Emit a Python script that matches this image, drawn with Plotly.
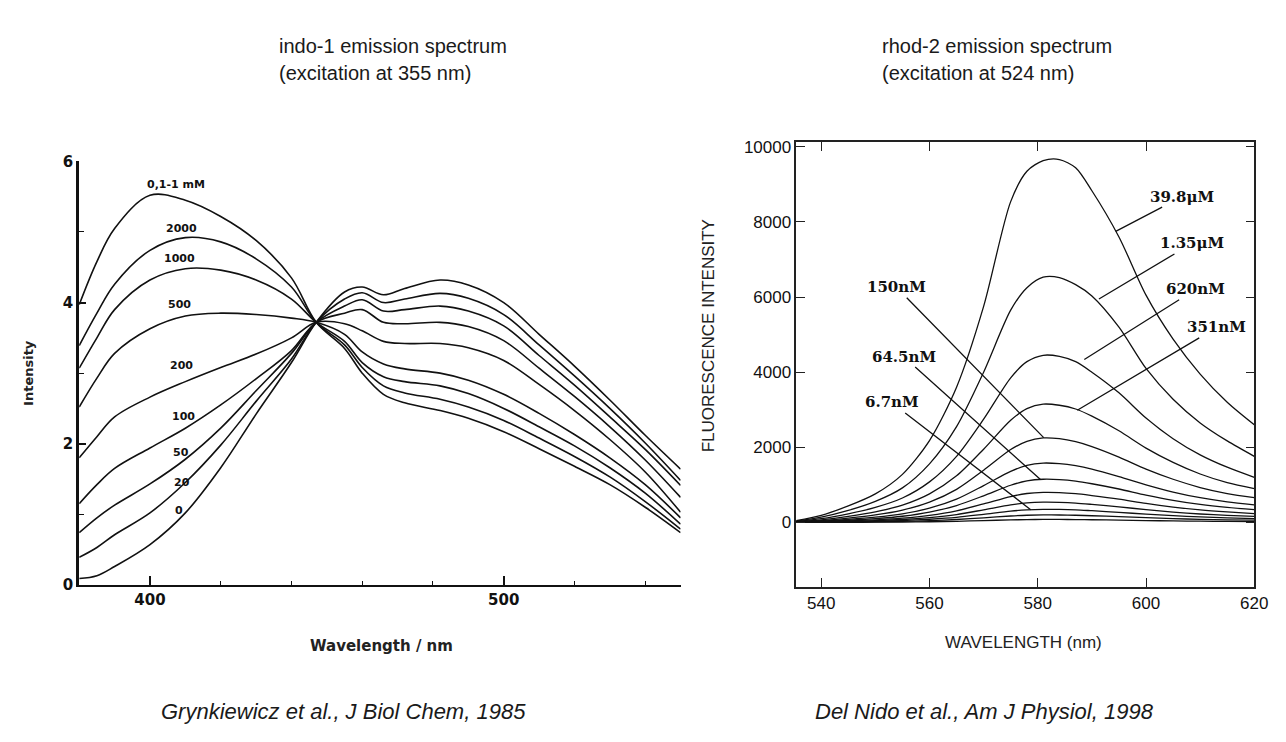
import plotly.graph_objects as go

# ---------------- Left panel: indo-1 (Grynkiewicz 1985) ----------------
indo_wl = [380, 385, 390, 400, 410, 420, 430, 440, 447, 455, 460, 466, 472, 482, 490, 500, 510, 520, 530, 540, 550]
indo_labels = ["0,1-1 mM", "2000", "1000", "500", "200", "100", "50", "20", "0"]
indo_sat = [3.97, 4.58, 5.05, 5.52, 5.45, 5.22, 4.88, 4.35, 3.72, 3.35, 3.0, 2.7, 2.58, 2.47, 2.36, 2.17, 1.93, 1.68, 1.42, 1.1, 0.74]
indo_2000 = [3.39, 3.85, 4.26, 4.74, 4.92, 4.86, 4.62, 4.22, 3.72, 3.4, 3.08, 2.82, 2.72, 2.63, 2.52, 2.33, 2.08, 1.82, 1.53, 1.18, 0.79]
indo_1000 = [3.07, 3.5, 3.9, 4.32, 4.48, 4.46, 4.32, 4.05, 3.72, 3.45, 3.15, 2.95, 2.88, 2.82, 2.71, 2.5, 2.24, 1.97, 1.66, 1.3, 0.86]
indo_500 = [2.52, 2.93, 3.28, 3.63, 3.81, 3.85, 3.83, 3.78, 3.72, 3.55, 3.3, 3.13, 3.06, 3.0, 2.9, 2.7, 2.43, 2.13, 1.8, 1.42, 0.95]
indo_200 = [1.8, 2.1, 2.38, 2.66, 2.88, 3.08, 3.27, 3.5, 3.72, 3.7, 3.6, 3.45, 3.42, 3.42, 3.36, 3.18, 2.84, 2.47, 2.06, 1.6, 1.03]
indo_100 = [1.15, 1.42, 1.65, 1.94, 2.22, 2.55, 2.92, 3.32, 3.72, 3.85, 3.9, 3.72, 3.7, 3.72, 3.66, 3.46, 3.07, 2.67, 2.24, 1.77, 1.24]
indo_50 = [0.74, 0.95, 1.13, 1.43, 1.78, 2.22, 2.75, 3.28, 3.72, 3.95, 4.04, 3.88, 3.9, 3.95, 3.88, 3.67, 3.25, 2.83, 2.38, 1.92, 1.41]
indo_20 = [0.39, 0.53, 0.71, 1.02, 1.45, 1.98, 2.6, 3.2, 3.72, 4.05, 4.14, 4.0, 4.05, 4.13, 4.06, 3.83, 3.4, 2.96, 2.5, 2.01, 1.48]
indo_0 = [0.09, 0.13, 0.26, 0.57, 1.02, 1.66, 2.42, 3.15, 3.72, 4.15, 4.22, 4.11, 4.2, 4.32, 4.25, 4.0, 3.55, 3.1, 2.62, 2.12, 1.64]
indo_series = [indo_sat, indo_2000, indo_1000, indo_500, indo_200, indo_100, indo_50, indo_20, indo_0]
indo_label_x = [407.5, 408.8, 408.3, 408.3, 408.8, 409.4, 408.8, 409.0, 408.3]
indo_label_y = [5.67, 5.05, 4.62, 3.97, 3.11, 2.38, 1.87, 1.45, 1.05]

# ---------------- Right panel: rhod-2 (Del Nido 1998) ----------------
rhod_wl = [535, 540, 545, 550, 555, 560, 565, 570, 575, 578, 581, 584, 587, 590, 595, 600, 605, 610, 615, 620]
rhod_c1 = [40, 190, 440, 760, 1280, 2180, 3600, 5750, 8540, 9350, 9630, 9660, 9440, 8830, 7600, 6050, 4880, 3950, 3200, 2600]
rhod_c2 = [30, 140, 320, 560, 920, 1560, 2550, 4000, 5650, 6250, 6530, 6520, 6330, 6030, 5200, 4100, 3280, 2650, 2170, 1760]
rhod_c3 = [20, 100, 230, 400, 650, 1080, 1760, 2750, 3850, 4280, 4450, 4420, 4280, 4000, 3450, 2780, 2230, 1800, 1470, 1200]
rhod_c4 = [15, 70, 160, 280, 460, 760, 1240, 1950, 2720, 3030, 3150, 3120, 3020, 2830, 2440, 1980, 1600, 1290, 1060, 900]
rhod_c5 = [10, 50, 115, 200, 330, 540, 880, 1390, 1940, 2160, 2250, 2230, 2150, 2020, 1740, 1420, 1150, 930, 770, 660]
rhod_c6 = [8, 35, 80, 140, 230, 380, 620, 980, 1360, 1520, 1580, 1565, 1510, 1420, 1220, 1000, 810, 660, 550, 470]
rhod_c7 = [5, 25, 58, 100, 165, 275, 450, 710, 990, 1105, 1150, 1140, 1100, 1030, 890, 730, 590, 480, 400, 340]
rhod_c8 = [4, 18, 40, 70, 115, 190, 310, 495, 690, 770, 800, 795, 765, 715, 620, 505, 410, 335, 280, 235]
rhod_c9 = [3, 12, 27, 47, 78, 130, 210, 335, 465, 520, 540, 535, 515, 480, 415, 340, 275, 225, 190, 160]
rhod_c10 = [2, 8, 17, 30, 50, 85, 135, 215, 300, 335, 350, 347, 335, 312, 270, 220, 180, 146, 122, 104]
rhod_c11 = [1, 5, 10, 17, 28, 48, 78, 124, 172, 192, 200, 198, 191, 178, 154, 126, 102, 83, 70, 60]
rhod_c12 = [0, 2, 4, 7, 11, 19, 31, 49, 68, 76, 80, 79, 76, 71, 62, 50, 41, 33, 28, 24]
rhod_series = [rhod_c1, rhod_c2, rhod_c3, rhod_c4, rhod_c5, rhod_c6, rhod_c7, rhod_c8, rhod_c9, rhod_c10, rhod_c11, rhod_c12]

rhod_labels = ["39.8\u03bcM", "1.35\u03bcM", "620nM", "351nM", "150nM", "64.5nM", "6.7nM"]
rhod_label_x = [606.7, 608.5, 609.2, 613.1, 553.9, 555.2, 553.0]
rhod_label_y = [8674, 7427, 6207, 5194, 6259, 4415, 3194]
rhod_point_x = [594.4, 591.3, 588.6, 587.3, 581.1, 580.5, 578.7]
rhod_point_y = [7750, 5947, 4337, 2987, 2259, 1143, 338]

right_ticks = [0, 2000, 4000, 6000, 8000, 10000]
right_ticktext = ["0", "2000", "4000", "6000", "8000", "10000"]

fig = go.Figure()

for ys in indo_series:
    fig.add_trace(go.Scatter(x=indo_wl, y=ys, mode="lines", xaxis="x", yaxis="y",
                             line=dict(color="#111111", width=1.6, shape="spline", smoothing=1.0),
                             hoverinfo="skip", showlegend=False))

for ys in rhod_series:
    fig.add_trace(go.Scatter(x=rhod_wl, y=ys, mode="lines", xaxis="x2", yaxis="y2",
                             line=dict(color="#111111", width=1.3, shape="spline", smoothing=0.8),
                             hoverinfo="skip", showlegend=False))

W, H = 1286, 742
def px(x):
    return x / W
def py(y):
    return 1 - y / H

annotations = []
for t, x, y in zip(indo_labels, indo_label_x, indo_label_y):
    annotations.append(dict(x=x, y=y, xref="x", yref="y", text="<b>" + t + "</b>", showarrow=False,
                            font=dict(family="DejaVu Sans", size=11, color="#111"),
                            xanchor="center", yanchor="middle"))
for t, lx, ly, x, y in zip(rhod_labels, rhod_label_x, rhod_label_y, rhod_point_x, rhod_point_y):
    annotations.append(dict(x=x, y=y, xref="x2", yref="y2", ax=lx, ay=ly, axref="x2", ayref="y2",
                            text="<b>" + t + "</b>", showarrow=True, arrowhead=0, arrowwidth=1.3,
                            arrowcolor="#111", standoff=0, startstandoff=0,
                            font=dict(family="DejaVu Serif", size=15, color="#111")))

title_font = dict(family="Liberation Sans, Arial", size=20, color="#1a1a1a")
annotations += [
    dict(x=px(272), y=py(30), xref="paper", yref="paper", text="indo-1 emission spectrum",
         showarrow=False, xanchor="left", yanchor="middle", font=title_font),
    dict(x=px(272), y=py(57), xref="paper", yref="paper", text="(excitation at 355 nm)",
         showarrow=False, xanchor="left", yanchor="middle", font=title_font),
    dict(x=px(882), y=py(30), xref="paper", yref="paper", text="rhod-2 emission spectrum",
         showarrow=False, xanchor="left", yanchor="middle", font=title_font),
    dict(x=px(882), y=py(57), xref="paper", yref="paper", text="(excitation at 524 nm)",
         showarrow=False, xanchor="left", yanchor="middle", font=title_font),
]
cite_font = dict(family="Liberation Sans, Arial", size=22, color="#1a1a1a")
annotations += [
    dict(x=px(339), y=py(712), xref="paper", yref="paper", text="<i>Grynkiewicz et al., J Biol Chem, 1985</i>",
         showarrow=False, xanchor="center", yanchor="middle", font=cite_font),
    dict(x=px(987), y=py(712), xref="paper", yref="paper", text="<i>Del Nido et al., Am J Physiol, 1998</i>",
         showarrow=False, xanchor="center", yanchor="middle", font=cite_font),
]
annotations += [
    dict(x=px(20), y=py(365), xref="paper", yref="paper", text="<b>Intensity</b>", textangle=-90,
         showarrow=False, xanchor="center", yanchor="middle",
         font=dict(family="DejaVu Sans", size=13, color="#222")),
    dict(x=px(378), y=py(645), xref="paper", yref="paper", text="<b>Wavelength / nm</b>",
         showarrow=False, xanchor="center", yanchor="middle",
         font=dict(family="DejaVu Sans", size=15, color="#222")),
    dict(x=px(708), y=py(327), xref="paper", yref="paper", text="FLUORESCENCE INTENSITY", textangle=-90,
         showarrow=False, xanchor="center", yanchor="middle",
         font=dict(family="Liberation Sans, Arial", size=17, color="#222")),
    dict(x=px(1027), y=py(641), xref="paper", yref="paper", text="WAVELENGTH (nm)",
         showarrow=False, xanchor="center", yanchor="middle",
         font=dict(family="Liberation Sans, Arial", size=17, color="#222")),
]

left_tick_font = dict(family="DejaVu Sans", size=15, color="#111")
right_tick_font = dict(family="Liberation Sans, Arial", size=17, color="#111")

fig.update_layout(
    width=W, height=H,
    margin=dict(l=0, r=0, t=0, b=0),
    paper_bgcolor="white", plot_bgcolor="white",
    showlegend=False,
    annotations=annotations,
    xaxis=dict(domain=[px(72), px(680)], range=[380, 550], anchor="y",
               showline=True, linecolor="#111", linewidth=2, showgrid=False, zeroline=False,
               tickvals=[400, 500], ticktext=["<b>400</b>", "<b>500</b>"], ticks="inside", ticklen=9,
               tickwidth=1.5, tickcolor="#111", tickfont=left_tick_font,
               minor=dict(ticks="inside", tick0=400, dtick=20, ticklen=4, tickcolor="#111", tickwidth=1.2)),
    yaxis=dict(domain=[py(582), py(148)], range=[0, 6], anchor="x",
               showline=True, linecolor="#111", linewidth=3, showgrid=False, zeroline=False,
               tickvals=[0, 2, 4, 6], ticktext=["<b>0</b>", "<b>2</b>", "<b>4</b>", "<b>6</b>"],
               ticks="inside", ticklen=7, tickwidth=1.5, tickcolor="#111", tickfont=left_tick_font,
               minor=dict(ticks="inside", dtick=1, ticklen=5, tickcolor="#111", tickwidth=1.2)),
    xaxis2=dict(domain=[px(797), px(1260)], range=[535.4, 620], anchor="y2",
                showline=True, mirror="ticks", linecolor="#222", linewidth=1.5, showgrid=False, zeroline=False,
                tickvals=[540, 560, 580, 600, 620], ticks="inside", ticklen=9, tickwidth=1.3,
                tickcolor="#222", tickfont=right_tick_font),
    yaxis2=dict(domain=[py(584), py(128)], range=[-1714, 10130], anchor="x2",
                showline=True, mirror="ticks", linecolor="#222", linewidth=1.5, showgrid=False, zeroline=False,
                tickvals=right_ticks, ticktext=right_ticktext, ticks="inside", ticklen=9, tickwidth=1.3,
                tickcolor="#222", tickfont=right_tick_font),
)

fig.write_html("out.html")
